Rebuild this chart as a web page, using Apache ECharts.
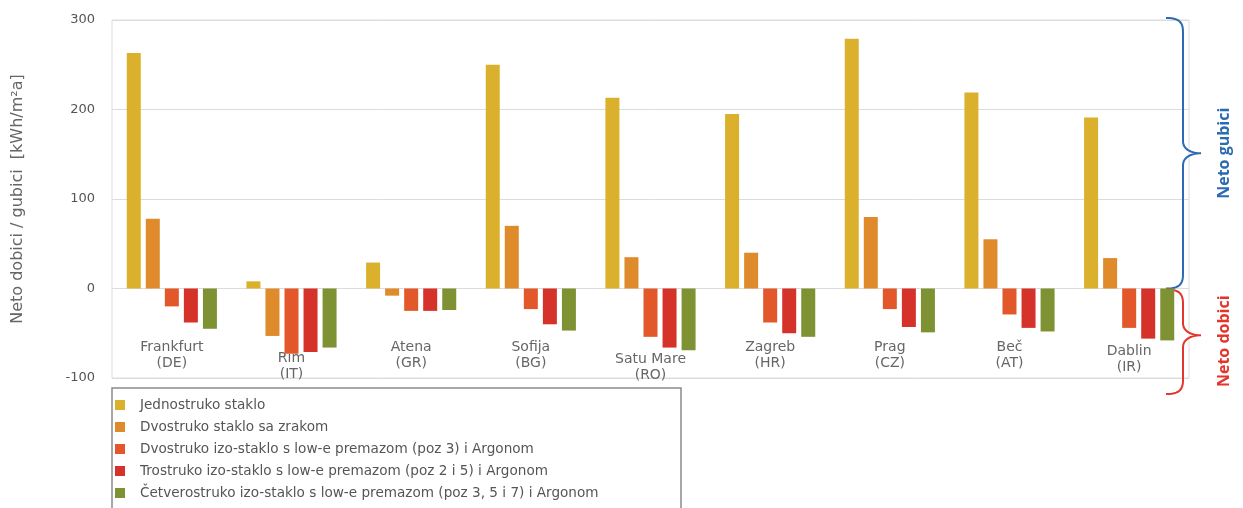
<!DOCTYPE html>
<html>
<head>
<meta charset="utf-8">
<script src="https://cdn.jsdelivr.net/npm/echarts@6/dist/echarts.min.js"></script>
<style>
html,body{margin:0;padding:0;background:#fff;}
#chart{width:1243px;height:508px;}
</style>
</head>
<body>
<div id="chart"></div>
<script>
const categories = ['Frankfurt\n(DE)', 'Rim\n(IT)', 'Atena\n(GR)', 'Sofija\n(BG)', 'Satu Mare\n(RO)', 'Zagreb\n(HR)', 'Prag\n(CZ)', 'Beč\n(AT)', 'Dablin\n(IR)'];
const seriesNames = [
  'Jednostruko staklo',
  'Dvostruko staklo sa zrakom',
  'Dvostruko izo-staklo s low-e premazom (poz 3) i Argonom',
  'Trostruko izo-staklo s low-e premazom (poz 2 i 5) i Argonom',
  'Četverostruko izo-staklo s low-e premazom (poz 3, 5 i 7) i Argonom'
];
const jednostruko = [263, 8, 29, 250, 213, 195, 279, 219, 191];
const dvostrukoZrak = [78, -53, -8, 70, 35, 40, 80, 55, 34];
const dvostrukoIzo = [-20, -73, -25, -23, -54, -38, -23, -29, -44];
const trostrukoIzo = [-38, -71, -25, -40, -66, -50, -43, -44, -56];
const cetverostrukoIzo = [-45, -66, -24, -47, -69, -54, -49, -48, -58];
const yTicks = { min: -100, max: 300, interval: 100 };
const rightLabels = ['Neto gubici', 'Neto dobici'];

const colors = ['#DAB02C', '#DF8B2B', '#E3582A', '#D5322A', '#7F9233'];
const seriesData = [jednostruko, dvostrukoZrak, dvostrukoIzo, trostrukoIzo, cetverostrukoIzo];
// label vertical shift (layout only)
const labelShift = { 'Rim\n(IT)': 11, 'Satu Mare\n(RO)': 12, 'Dablin\n(IR)': 4 };

const chart = echarts.init(document.getElementById('chart'));
const font = '"DejaVu Sans", sans-serif';

const option = {
  animation: false,
  color: colors,
  grid: { left: 112, right: 54, top: 20, bottom: 130, show: true, borderColor: '#dcdcdc', borderWidth: 1 },
  legend: {
    orient: 'vertical',
    left: 112, top: 388,
    padding: [10, 10, 4, 3],
    itemWidth: 10, itemHeight: 10, itemGap: 8,
    icon: 'rect',
    textStyle: { fontFamily: font, fontSize: 13.6, lineHeight: 14, color: '#555', padding: [0, 0, 0, 10] },
    data: seriesNames
  },
  xAxis: {
    type: 'category',
    data: categories,
    axisLine: { show: false },
    axisTick: { show: false },
    axisLabel: {
      margin: -39,
      interval: 0,
      color: '#666',
      fontFamily: font,
      fontSize: 14,
      lineHeight: 16,
      formatter: function (v) {
        const s = labelShift[v];
        const lines = v.split('\n');
        let out = lines.map(l => '{a|' + l + '}').join('\n');
        if (s) out = '{g' + s + '| }\n' + out;
        return out;
      },
      rich: {
        a: { fontFamily: font, fontSize: 14, lineHeight: 16, color: '#666' },
        g11: { fontSize: 4, lineHeight: 11 },
        g12: { fontSize: 4, lineHeight: 12 },
        g4: { fontSize: 4, lineHeight: 4 }
      }
    }
  },
  yAxis: {
    type: 'value',
    min: yTicks.min, max: yTicks.max, interval: yTicks.interval,
    name: 'Neto dobici / gubici  [kWh/m²a]',
    nameLocation: 'middle',
    nameGap: 86,
    nameTextStyle: { fontFamily: font, fontSize: 16, color: '#666' },
    axisLine: { show: false },
    axisTick: { show: false },
    axisLabel: { fontFamily: font, fontSize: 13, color: '#555', margin: 17 },
    splitLine: { lineStyle: { color: '#dcdcdc', width: 1 } }
  },
  series: seriesNames.map((n, i) => ({
    name: n,
    type: 'bar',
    data: seriesData[i],
    barWidth: 14,
    barGap: '36%',
    itemStyle: { color: colors[i] }
  }))
};
chart.setOption(option);

function cubic(p0, p1, p2, p3, n, out) {
  for (let i = 1; i <= n; i++) {
    const t = i / n, u = 1 - t;
    out.push([
      u*u*u*p0[0] + 3*u*u*t*p1[0] + 3*u*t*t*p2[0] + t*t*t*p3[0],
      u*u*u*p0[1] + 3*u*u*t*p1[1] + 3*u*t*t*p2[1] + t*t*t*p3[1]
    ]);
  }
}
function brace(x0, xv, xt, yTop, yMid, yBot) {
  const pts = [[x0, yTop]];
  cubic([x0, yTop], [xv - 4, yTop], [xv, yTop + 4], [xv, yTop + 14], 12, pts);
  pts.push([xv, yMid - 12]);
  cubic([xv, yMid - 12], [xv, yMid - 3], [xt - 8, yMid], [xt, yMid], 12, pts);
  cubic([xt, yMid], [xt - 8, yMid], [xv, yMid + 3], [xv, yMid + 12], 12, pts);
  pts.push([xv, yBot - 14]);
  cubic([xv, yBot - 14], [xv, yBot - 4], [xv - 4, yBot], [x0, yBot], 12, pts);
  return pts;
}

const yTopPx = chart.convertToPixel({ yAxisIndex: 0 }, yTicks.max) - 2;
const yZeroPx = chart.convertToPixel({ yAxisIndex: 0 }, 0);
const yMinPx = chart.convertToPixel({ yAxisIndex: 0 }, yTicks.min);
const blueMid = (yTopPx + yZeroPx) / 2;
const redBot = yMinPx + 16;
const redMid = (yZeroPx + redBot) / 2 - 6;
const xBase = 1166, xV = 1183, xTip = 1201;

chart.setOption({
  graphic: [
    { type: 'rect', shape: { x: 112, y: 388, width: 569, height: 140 },
      style: { fill: null, stroke: '#8a8a8a', lineWidth: 1.5 }, z: 1 },
    { type: 'polyline', shape: { points: brace(xBase, xV, xTip, yTopPx, blueMid, yZeroPx) },
      style: { fill: null, stroke: '#2C6AB1', lineWidth: 2 } },
    { type: 'polyline', shape: { points: brace(xBase, xV, xTip, yZeroPx + 1, redMid, redBot) },
      style: { fill: null, stroke: '#E2362C', lineWidth: 2 } },
    { type: 'text', x: 1224, y: blueMid, rotation: Math.PI / 2,
      style: { text: rightLabels[0], fill: '#2C6AB1', font: 'bold 16px "Open Sans", sans-serif', align: 'center', verticalAlign: 'middle' } },
    { type: 'text', x: 1224, y: (yZeroPx + redBot) / 2, rotation: Math.PI / 2,
      style: { text: rightLabels[1], fill: '#E2362C', font: 'bold 16px "Open Sans", sans-serif', align: 'center', verticalAlign: 'middle' } }
  ]
});
</script>
</body>
</html>
